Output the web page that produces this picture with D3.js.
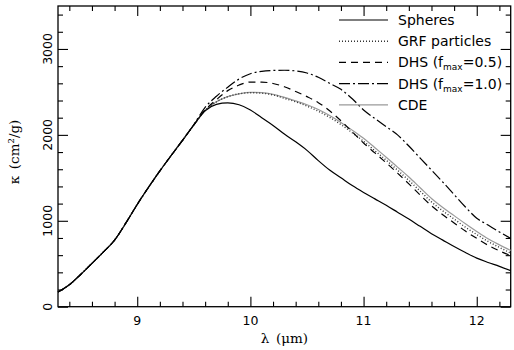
<!DOCTYPE html>
<html>
<head>
<meta charset="utf-8">
<script src="https://cdn.jsdelivr.net/npm/d3@7"></script>
<style>
  html, body { margin: 0; padding: 0; background: #fff; }
  svg { display: block; }
</style>
</head>
<body>
<div id="chart"></div>
<script>
// Wellenlängen (µm), gemeinsames Raster für alle Kurven
const lambda = [
  8.3, 8.4, 8.5, 8.6, 8.7, 8.8, 8.9, 9.0, 9.1, 9.2, 9.3, 9.4, 9.5,
  9.6, 9.7, 9.8, 9.9, 10.0, 10.1, 10.2, 10.3, 10.4, 10.5, 10.6, 10.7, 10.8, 10.9,
  11.0, 11.1, 11.2, 11.3, 11.4, 11.5, 11.6, 11.7, 11.8, 11.9, 12.0, 12.1, 12.2, 12.3
];

// Opazität kappa (cm²/g)
const spheres = [
  170, 255, 375, 505, 635, 775, 975, 1190, 1390, 1580, 1760, 1935, 2115,
  2280, 2355, 2372, 2350, 2290, 2200, 2110, 2010, 1920, 1820, 1700, 1590, 1500, 1410,
  1330, 1255, 1180, 1100, 1020, 935, 850, 775, 700, 630, 565, 515, 470, 420
];
const grf = [
  170, 255, 375, 505, 635, 775, 975, 1190, 1390, 1580, 1760, 1935, 2115,
  2285, 2385, 2445, 2478, 2490, 2485, 2465, 2425, 2385, 2335, 2275, 2205, 2120, 2025,
  1925, 1815, 1705, 1590, 1470, 1345, 1220, 1115, 1020, 925, 840, 760, 690, 625
];
const dhs05 = [
  170, 255, 375, 505, 635, 775, 975, 1190, 1390, 1580, 1760, 1935, 2115,
  2290, 2410, 2515, 2580, 2615, 2615, 2598, 2560, 2505, 2445, 2375, 2280, 2165, 2035,
  1905, 1790, 1675, 1555, 1430, 1300, 1175, 1070, 975, 880, 795, 715, 650, 595
];
const dhs10 = [
  170, 255, 375, 505, 635, 775, 975, 1190, 1390, 1580, 1760, 1935, 2120,
  2320, 2450, 2555, 2650, 2712, 2740, 2750, 2752, 2745, 2720, 2670, 2600, 2530, 2420,
  2290, 2190, 2095, 2000, 1870, 1730, 1590, 1450, 1305, 1160, 1030, 950, 870, 795
];
const cde = [
  170, 255, 375, 505, 635, 775, 975, 1190, 1390, 1580, 1760, 1935, 2115,
  2285, 2385, 2445, 2478, 2495, 2492, 2472, 2437, 2395, 2350, 2295, 2225, 2145, 2055,
  1960, 1850, 1740, 1625, 1510, 1385, 1260, 1155, 1060, 965, 875, 790, 720, 655
];

const xMajor = [9, 10, 11, 12];
const yMajor = [0, 1000, 2000, 3000];

const series = [
  { name: "Spheres", values: spheres, color: "#000", dash: null },
  { name: "GRF particles", values: grf, color: "#333", dash: "1,2" },
  { name: "DHS", sub: "0.5", values: dhs05, color: "#000", dash: "7,5" },
  { name: "DHS", sub: "1.0", values: dhs10, color: "#000", dash: "11,3,2,3" },
  { name: "CDE", values: cde, color: "#9a9a9a", dash: null }
];

const width = 514, height = 350;
const margin = { top: 6, right: 3.3, bottom: 43.3, left: 58 };

const svg = d3.select("#chart").append("svg")
  .attr("width", width)
  .attr("height", height)
  .style("font-family", "'DejaVu Sans', sans-serif");

const x = d3.scaleLinear().domain([8.3, 12.3]).range([margin.left, width - margin.right]);
const y = d3.scaleLinear().domain([0, 3500]).range([height - margin.bottom, margin.top]);

const x0 = x.range()[0], x1 = x.range()[1];
const y0 = y.range()[0], y1 = y.range()[1];

// Nebenstriche
const xMinor = d3.range(8.4, 12.3, 0.2).filter(v => !xMajor.some(m => Math.abs(m - v) < 1e-6));
const yMinor = d3.range(200, 3500, 200).filter(v => !yMajor.includes(v));

function ticks(axisFn, scale, values, size, transform) {
  svg.append("g")
    .attr("transform", transform)
    .call(axisFn(scale).tickValues(values).tickSize(-size).tickFormat(""))
    .call(g => g.select(".domain").remove())
    .call(g => g.selectAll("line").attr("stroke-width", 1.1));
}

ticks(d3.axisBottom, x, xMajor, 10, `translate(0,${y0})`);
ticks(d3.axisBottom, x, xMinor, 5, `translate(0,${y0})`);
ticks(d3.axisTop, x, xMajor, 10, `translate(0,${y1})`);
ticks(d3.axisTop, x, xMinor, 5, `translate(0,${y1})`);
ticks(d3.axisLeft, y, yMajor, 10, `translate(${x0},0)`);
ticks(d3.axisLeft, y, yMinor, 5, `translate(${x0},0)`);
ticks(d3.axisRight, y, yMajor, 10, `translate(${x1},0)`);
ticks(d3.axisRight, y, yMinor, 5, `translate(${x1},0)`);

// Rahmen
svg.append("rect")
  .attr("x", x0).attr("y", y1)
  .attr("width", x1 - x0).attr("height", y0 - y1)
  .attr("fill", "none").attr("stroke", "#000").attr("stroke-width", 1.3);

// Beschriftung x
svg.append("g").selectAll("text")
  .data(xMajor).join("text")
  .attr("x", d => x(d))
  .attr("y", y0 + 18)
  .attr("text-anchor", "middle")
  .attr("font-size", 12.5)
  .text(d => d);

// Beschriftung y (gedreht)
svg.append("g").selectAll("text")
  .data(yMajor).join("text")
  .attr("transform", d => `translate(${x0 - 6},${y(d)}) rotate(-90)`)
  .attr("text-anchor", "middle")
  .attr("font-size", 12.5)
  .text(d => d);

// Achsentitel
svg.append("text")
  .attr("x", (x0 + x1) / 2)
  .attr("y", 343)
  .attr("text-anchor", "middle")
  .attr("font-family", "'DejaVu Serif', serif")
  .attr("font-size", 13.5)
  .text("λ\u2002(μm)");

svg.append("text")
  .attr("transform", `translate(19,152) rotate(-90)`)
  .attr("text-anchor", "middle")
  .attr("font-family", "'DejaVu Serif', serif")
  .attr("font-size", 13.5)
  .text("κ\u2002(cm²/g)");

// Kurven
const line = d3.line()
  .curve(d3.curveMonotoneX)
  .x((d, i) => x(lambda[i]))
  .y(d => y(d));

const plot = svg.append("g");
// CDE zuerst, damit die schwarzen Linien darüber liegen
[4, 0, 1, 2, 3].forEach(i => {
  const s = series[i];
  plot.append("path")
    .datum(s.values)
    .attr("fill", "none")
    .attr("stroke", s.color)
    .attr("stroke-width", i === 1 ? 1.4 : 1.2)
    .attr("stroke-dasharray", s.dash)
    .attr("d", line);
});

// Legende
const legend = svg.append("g");
series.forEach((s, i) => {
  const cy = 20 + i * 21.2;
  legend.append("line")
    .attr("x1", 339).attr("x2", 388)
    .attr("y1", cy).attr("y2", cy)
    .attr("stroke", s.color)
    .attr("stroke-width", i === 1 ? 1.4 : 1.2)
    .attr("stroke-dasharray", s.dash);
  const t = legend.append("text")
    .attr("x", 398)
    .attr("y", cy + 5)
    .attr("font-size", 14);
  if (s.sub) {
    t.append("tspan").text(s.name + " (f");
    t.append("tspan").attr("font-size", 9).attr("dy", 3).text("max");
    t.append("tspan").attr("dy", -3).text("=" + s.sub + ")");
  } else {
    t.text(s.name);
  }
});
</script>
</body>
</html>
